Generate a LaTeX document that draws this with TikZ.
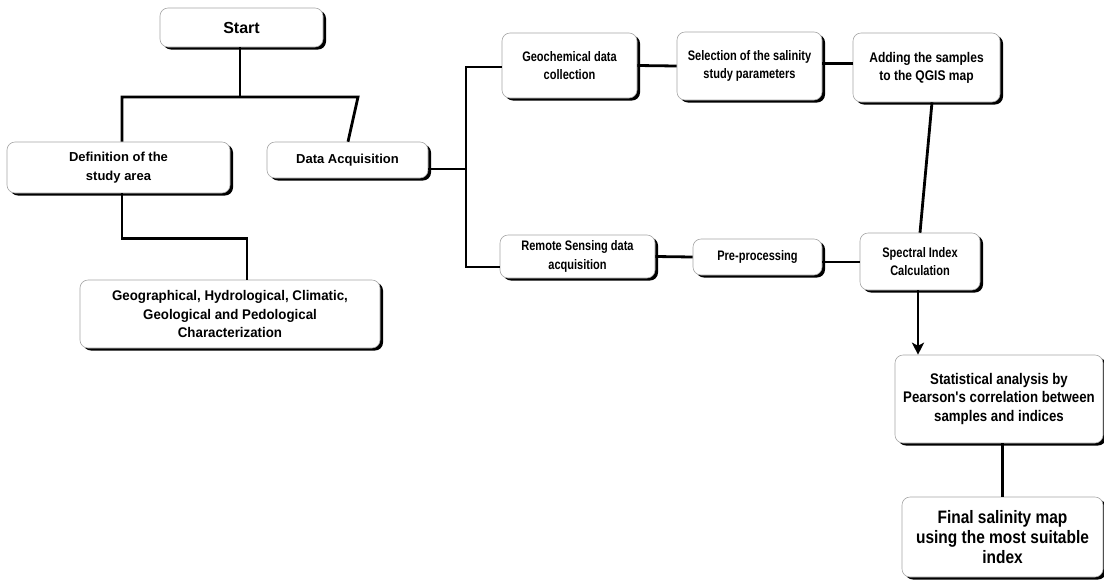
\documentclass[tikz,border=0pt]{standalone}
\usepackage{fontspec}
\setmainfont{Liberation Sans}
\newfontfamily\narrowA{Liberation Sans}[FakeStretch=0.8]
\newfontfamily\narrowB{Liberation Sans}[FakeStretch=0.86]
\newfontfamily\narrowC{Liberation Sans}[FakeStretch=0.95]
\usetikzlibrary{shadows,arrows.meta,calc}
\tikzset{
  box/.style={draw=gray!70, line width=0.6pt, fill=white, rounded corners=8pt,
    align=center, inner sep=2pt,
    general shadow={fill=black, shadow xshift=3pt, shadow yshift=-2.5pt}},
  txtA/.style={font=\narrowA\fontsize{13.8}{18.2}\selectfont\bfseries},
  txtN/.style={font=\fontsize{13}{18.3}\selectfont\bfseries},
  conn/.style={line width=2.8pt, black},
}
\begin{document}
\begin{tikzpicture}[x=1pt,y=-1pt]
\useasboundingbox[fill=white] (0,0) rectangle (1104,582);
% nodes
\node[box, minimum width=163pt, minimum height=39pt, font=\fontsize{16}{18}\selectfont\bfseries] (start) at (241.5,27.5) {Start};
\node[box, txtN, minimum width=223pt, minimum height=51pt] (def) at (118.5,167.5) {Definition of the\\study area};
\node[box, txtN, minimum width=161pt, minimum height=36pt] (acq) at (347.5,160) {Data Acquisition};
\node[box, font=\narrowC\fontsize{14}{18.3}\selectfont\bfseries, minimum width=300pt, minimum height=68pt] (geo) at (230,314) {Geographical, Hydrological, Climatic,\\Geological and Pedological\\Characterization};
\node[box, txtA, minimum width=135pt, minimum height=65pt] (gch) at (569.5,65.5) {Geochemical data\\collection};
\node[box, txtA, minimum width=145pt, minimum height=68pt] (sel) at (749.5,66) {Selection of the salinity\\study parameters};
\node[box, font=\narrowB\fontsize{14}{18.2}\selectfont\bfseries, minimum width=147pt, minimum height=69pt] (add) at (926.5,67.5) {Adding the samples\\to the QGIS map};
\node[box, txtA, minimum width=155pt, minimum height=43pt] (rs) at (577.5,256.5) {Remote Sensing data\\acquisition};
\node[box, txtA, minimum width=129pt, minimum height=36pt] (pp) at (757.5,257) {Pre-processing};
\node[box, txtA, minimum width=120pt, minimum height=57pt] (si) at (920,261.5) {Spectral Index\\Calculation};
\node[box, minimum width=208pt, minimum height=88pt, font=\narrowB\fontsize{15.4}{18.6}\selectfont\bfseries] (st) at (999,399) {Statistical analysis by\\Pearson's correlation between\\samples and indices};
\node[box, minimum width=201pt, minimum height=80pt, font=\narrowB\fontsize{18}{20}\selectfont\bfseries] (fin) at (1002.5,537) {Final salinity map\\using the most suitable\\index};
% junction coordinates
\coordinate (j1) at (240,97);
\coordinate (jL) at (122,97);
\coordinate (jR) at (358,97);
\coordinate (jt) at (466,67);
\coordinate (jm) at (466,169);
\coordinate (jb) at (466,267);
% connectors
\draw[conn] (start.south -| j1) -- (j1);
\draw[conn] (def.north -| jL) -- (jL) -- (jR) -- ([xshift=0.5pt]acq.north);
\draw[conn] (def.south -| jL) -- ++(0,45) -| ([xshift=17pt]geo.north);
\draw[conn] (acq.east |- jm) -- (jm);
\draw[conn] (gch.west |- jt) -- (jt) -- (jb) -- (rs.west |- jb);
\draw[conn] (gch.east) -- (sel.west);
\draw[conn] ([yshift=2.5pt]sel.east) -- ([yshift=2.5pt]sel.east -| add.west);
\draw[conn] ([xshift=5.5pt]add.south) -- (si.north);
\draw[conn] (rs.east) -- (pp.west);
\draw[conn] ([yshift=-5pt]pp.east) -- ([yshift=-5pt]pp.east -| si.west);
\draw[conn, -{Stealth[length=12pt,width=12pt,inset=3pt]}] ([xshift=-2pt]si.south) -- ([xshift=-2pt]si.south |- st.north);
\draw[conn] (fin.north |- st.south) -- (fin.north);
\end{tikzpicture}
\end{document}
